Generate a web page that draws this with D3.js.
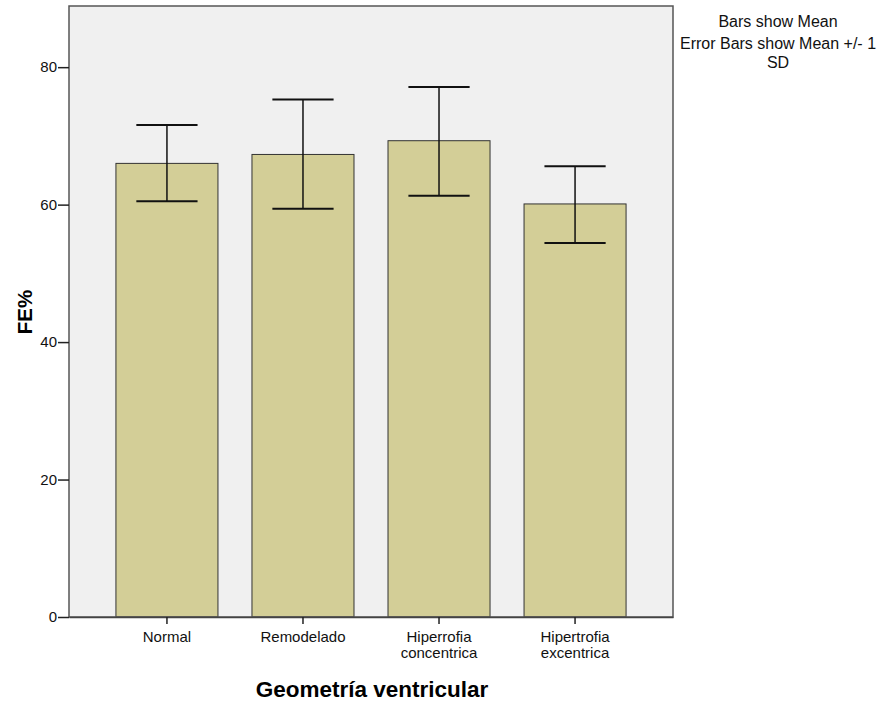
<!DOCTYPE html>
<html>
<head>
<meta charset="utf-8">
<script src="https://cdn.jsdelivr.net/npm/d3@7"></script>
<style>
  body { margin: 0; background: #fff; }
  svg { font-family: "Liberation Sans", Arial, sans-serif; }
</style>
</head>
<body>
<div id="chart"></div>
<script>
// data
const categories = ['Normal', 'Remodelado', 'Hiperrofia concentrica', 'Hipertrofia excentrica'];
const means = [66.0, 67.3, 69.3, 60.1];
const lower = [60.5, 59.4, 61.3, 54.4];
const upper = [71.6, 75.3, 77.1, 65.6];
const yTicks = [0, 20, 40, 60, 80];

const width = 885, height = 704;
const margin = { top: 6, right: 212, bottom: 87, left: 69 };
const w = width - margin.left - margin.right;
const h = height - margin.top - margin.bottom;

const svg = d3.select('#chart').append('svg').attr('width', width).attr('height', height);
const g = svg.append('g').attr('transform', `translate(${margin.left},${margin.top})`);

const x = d3.scaleBand().domain(categories).range([0, w]).paddingInner(0.25).paddingOuter(0.345);
const y = d3.scaleLinear().domain([0, 88.9]).range([h, 0]);

// plot background
g.append('rect').attr('width', w).attr('height', h).attr('fill', '#f0f0f0');

const data = categories.map((c, i) => ({ c, m: means[i], lo: lower[i], hi: upper[i] }));

// bars
g.selectAll('rect.bar')
  .data(data)
  .join('rect')
  .attr('class', 'bar')
  .attr('x', d => x(d.c))
  .attr('y', d => y(d.m))
  .attr('width', x.bandwidth())
  .attr('height', d => h - y(d.m))
  .attr('fill', '#d3ce97')
  .attr('stroke', '#333')
  .attr('stroke-width', 1);

// error bars
const capW = x.bandwidth() * 0.3;
const eb = g.selectAll('g.err').data(data).join('g').attr('class', 'err')
  .attr('transform', d => `translate(${x(d.c) + x.bandwidth() / 2},0)`);
eb.append('line').attr('y1', d => y(d.lo)).attr('y2', d => y(d.hi))
  .attr('stroke', '#111').attr('stroke-width', 1.5);
eb.append('line').attr('x1', -capW).attr('x2', capW).attr('y1', d => y(d.hi)).attr('y2', d => y(d.hi))
  .attr('stroke', '#111').attr('stroke-width', 2);
eb.append('line').attr('x1', -capW).attr('x2', capW).attr('y1', d => y(d.lo)).attr('y2', d => y(d.lo))
  .attr('stroke', '#111').attr('stroke-width', 2);

// frame
g.append('rect').attr('width', w).attr('height', h).attr('fill', 'none')
  .attr('stroke', '#555').attr('stroke-width', 1.5);

// y axis
const ya = g.append('g').call(d3.axisLeft(y).tickValues(yTicks).tickSize(11).tickPadding(1));
ya.select('.domain').remove();
ya.selectAll('.tick line').attr('stroke', '#222').attr('stroke-width', 1.5);
ya.selectAll('.tick text').attr('fill', '#111').style('font-size', '15px').style('font-family', '"Liberation Sans", Arial, sans-serif');

// x axis
const xa = g.append('g').attr('transform', `translate(0,${h})`)
  .call(d3.axisBottom(x).tickSize(7).tickSizeOuter(0).tickPadding(7));
xa.select('.domain').attr('stroke', '#444').attr('stroke-width', 1.5);
xa.selectAll('.tick line').attr('stroke', '#222').attr('stroke-width', 1.5);
xa.selectAll('.tick text').attr('fill', '#111').style('font-size', '15px')
  .style('font-family', '"Liberation Sans", Arial, sans-serif')
  .each(function (d) {
    const t = d3.select(this);
    const words = d.split(' ');
    if (words.length > 1) {
      t.text(null);
      words.forEach((wd, i) => t.append('tspan').attr('x', 0).attr('dy', i === 0 ? '0.71em' : '1.07em').text(wd));
      t.attr('dy', null);
    }
  });

// axis titles
svg.append('text')
  .attr('transform', `translate(32,312) rotate(-90)`)
  .attr('text-anchor', 'middle')
  .style('font-size', '20.5px').style('font-weight', 'bold').attr('fill', '#000')
  .text('FE%');

svg.append('text')
  .attr('x', 372).attr('y', 697)
  .attr('text-anchor', 'middle')
  .style('font-size', '22.5px').style('font-weight', 'bold').attr('fill', '#000')
  .text('Geometría ventricular');

// annotation
const notes = [['Bars show Mean', 27], ['Error Bars show Mean +/- 1', 49], ['SD', 68]];
svg.selectAll('text.note').data(notes).join('text')
  .attr('class', 'note')
  .attr('x', 778).attr('y', d => d[1])
  .attr('text-anchor', 'middle')
  .style('font-size', '16px').attr('fill', '#111')
  .text(d => d[0]);
</script>
</body>
</html>
